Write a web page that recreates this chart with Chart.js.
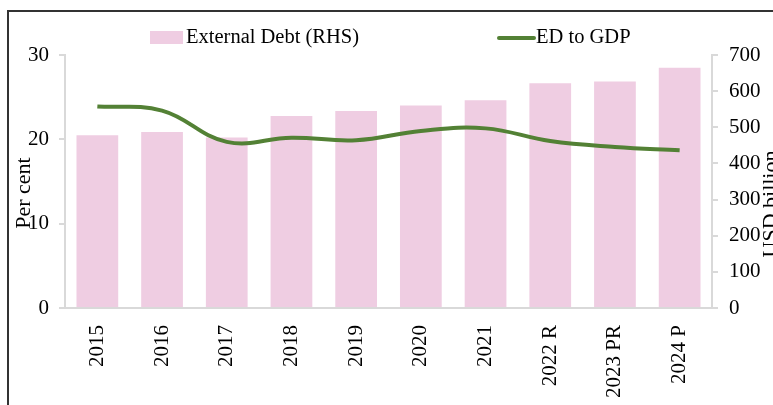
<!DOCTYPE html>
<html>
<head>
<meta charset="utf-8">
<script src="https://cdn.jsdelivr.net/npm/chart.js@4.4.1/dist/chart.umd.min.js"></script>
<style>
  html, body { margin: 0; padding: 0; background: #fff; }
  #wrap { position: relative; width: 773px; height: 405px; overflow: hidden; }
  #frame { position: absolute; left: 7px; top: 10px; width: 800px; height: 450px; border: 2px solid #333; box-sizing: border-box; }
  canvas { position: absolute; left: 0; top: 0; }
</style>
</head>
<body>
<div id="wrap">
  <div id="frame"></div>
  <canvas id="chart" width="773" height="405"></canvas>
</div>
<script>
const years = ['2015', '2016', '2017', '2018', '2019', '2020', '2021', '2022 R', '2023 PR', '2024 P'];
const externalDebt = [478, 487, 472, 531, 545, 560, 575, 622, 627, 665];
const edToGdp = [23.9, 23.4, 19.7, 20.2, 19.9, 21.0, 21.3, 19.8, 19.1, 18.7];
const leftTicks = [0, 10, 20, 30];
const rightTicks = [0, 100, 200, 300, 400, 500, 600, 700];

const FONT = 'Liberation Serif, Times New Roman, serif';
const AXIS = '#d9d9d9';

// legend and axis titles drawn by hand so they sit where the original has them
const extras = {
  id: 'extras',
  afterDraw(chart) {
    const ctx = chart.ctx;
    const [bars, line] = chart.data.datasets;
    ctx.save();
    ctx.font = '20.5px ' + FONT;
    ctx.fillStyle = '#000';
    ctx.textBaseline = 'middle';

    ctx.fillStyle = bars.backgroundColor;
    ctx.fillRect(150, 31, 33, 13);
    ctx.fillStyle = '#000';
    ctx.fillText(bars.label, 186, 38);

    ctx.strokeStyle = line.borderColor;
    ctx.lineWidth = 4;
    ctx.lineCap = 'round';
    ctx.beginPath();
    ctx.moveTo(499, 38);
    ctx.lineTo(534, 38);
    ctx.stroke();
    ctx.fillText(line.label, 536, 38);

    ctx.font = '22px ' + FONT;
    ctx.textAlign = 'center';
    ctx.translate(24, 193);
    ctx.rotate(-Math.PI / 2);
    ctx.fillText('Per cent', 0, 0);
    ctx.restore();

    ctx.save();
    ctx.font = '22px ' + FONT;
    ctx.fillStyle = '#000';
    ctx.textAlign = 'center';
    ctx.textBaseline = 'middle';
    ctx.translate(771, 204);
    ctx.rotate(-Math.PI / 2);
    ctx.fillText('USD billion', 0, 0);
    ctx.restore();
  }
};

new Chart(document.getElementById('chart'), {
  data: {
    labels: years,
    datasets: [
      {
        type: 'bar',
        label: 'External Debt (RHS)',
        data: externalDebt,
        backgroundColor: '#efcde2',
        yAxisID: 'y1',
        order: 2,
        categoryPercentage: 1,
        barPercentage: 0.645
      },
      {
        type: 'line',
        label: 'ED to GDP',
        data: edToGdp,
        borderColor: '#538135',
        borderWidth: 4,
        pointRadius: 0,
        tension: 0.4,
        yAxisID: 'y',
        order: 1
      }
    ]
  },
  options: {
    responsive: false,
    animation: false,
    layout: { padding: { top: 55, left: 0, right: 0, bottom: 0 } },
    plugins: { legend: { display: false }, tooltip: { enabled: false } },
    scales: {
      x: {
        grid: { display: false },
        border: { color: AXIS, width: 2 },
        ticks: { color: '#000', font: { family: FONT, size: 21 }, minRotation: 90, maxRotation: 90, padding: 9 },
        afterFit: s => { s.height = 97; }
      },
      y: {
        position: 'left',
        min: 0, max: 30,
        afterBuildTicks: s => { s.ticks = leftTicks.map(v => ({ value: v })); },
        grid: { drawOnChartArea: false, color: AXIS, tickLength: 6, lineWidth: 2 },
        border: { color: AXIS, width: 2 },
        ticks: { color: '#000', font: { family: FONT, size: 21 }, padding: 10 },
        afterFit: s => { s.width = 65; }
      },
      y1: {
        position: 'right',
        min: 0, max: 700,
        afterBuildTicks: s => { s.ticks = rightTicks.map(v => ({ value: v })); },
        grid: { drawOnChartArea: false, color: AXIS, tickLength: 6, lineWidth: 2 },
        border: { color: AXIS, width: 2 },
        ticks: { color: '#000', font: { family: FONT, size: 21 }, padding: 11 },
        afterFit: s => { s.width = 61; }
      }
    }
  },
  plugins: [extras]
});
</script>
</body>
</html>
